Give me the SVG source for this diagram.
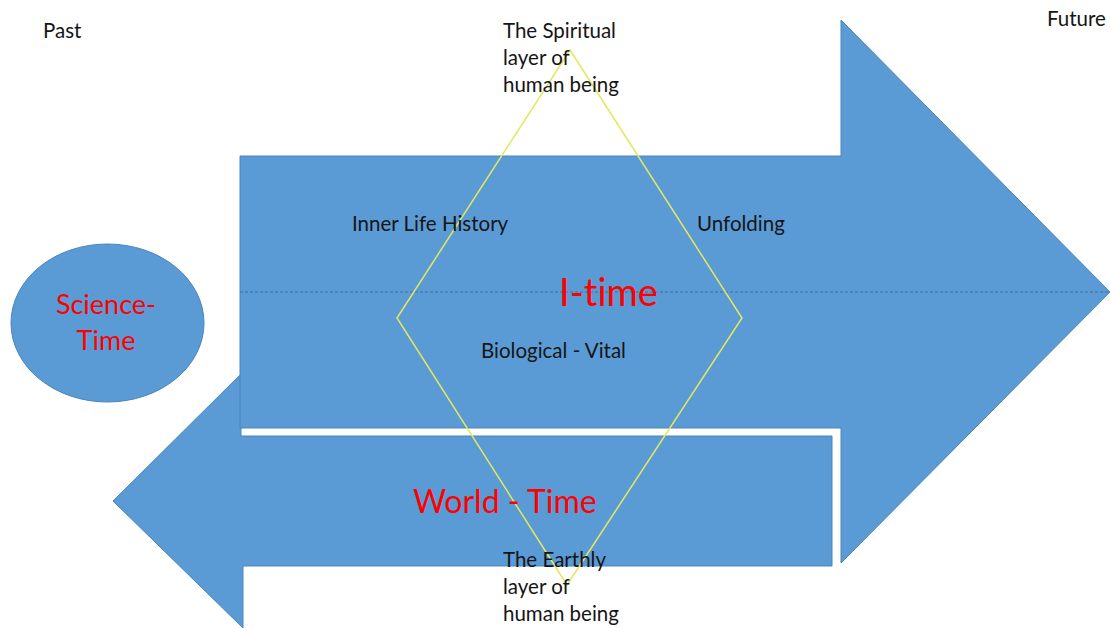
<svg xmlns="http://www.w3.org/2000/svg" width="1110" height="628" viewBox="0 0 1110 628">
  <style>
    .shape { fill: #5b9bd5; stroke: #4a84bd; stroke-width: 1; }
    .lbl { font-family: Lato, "Open Sans", sans-serif; fill: #151515; font-size: 20.5px; font-variant-ligatures: none; }
    .red { font-family: Lato, "Open Sans", sans-serif; fill: #ff0000; font-variant-ligatures: none; }
    .diamond { fill: none; stroke: #e3e85e; stroke-width: 1.5; }
    .axis { stroke: #3f6f9f; stroke-width: 1; stroke-dasharray: 3 2; fill: none; }
  </style>
  <rect width="1110" height="628" fill="#ffffff"/>

  <g id="world-time">
    <polygon class="shape" points="113,501 241,374 241,436 832,436 832,566 243,566 243,628"/>
  </g>

  <g id="i-time">
    <polygon class="shape" points="240,156 841,156 841,20 1110,292 841,563 841,428 240,428"/>
  </g>

  <g id="science-time">
    <ellipse class="shape" cx="107.5" cy="323" rx="96.5" ry="79"/>
    <text class="red" font-size="27" text-anchor="middle" x="106" y="314">Science-</text>
    <text class="red" font-size="27" text-anchor="middle" x="106" y="350">Time</text>
  </g>

  <g id="connectors">
    <line class="axis" x1="240" y1="292" x2="1110" y2="292"/>
    <polygon class="diamond" points="570,50 742,318 567,585 397,318"/>
  </g>

  <g id="labels">
    <text class="lbl" x="43" y="38">Past</text>
    <text class="lbl" x="1047" y="26">Future</text>
    <g id="spiritual">
      <text class="lbl" x="503" y="38">The Spiritual</text>
      <text class="lbl" x="503" y="65">layer of</text>
      <text class="lbl" x="503" y="92">human being</text>
    </g>
    <text class="lbl" x="352" y="231">Inner Life History</text>
    <text class="lbl" x="697" y="231">Unfolding</text>
    <text class="red" font-size="38" x="559" y="306">I-time</text>
    <text class="lbl" x="481" y="358">Biological - Vital</text>
    <text class="red" font-size="32" x="413" y="513">World - Time</text>
    <g id="earthly">
      <text class="lbl" x="503" y="567">The Earthly</text>
      <text class="lbl" x="503" y="594">layer of</text>
      <text class="lbl" x="503" y="621">human being</text>
    </g>
  </g>
</svg>
